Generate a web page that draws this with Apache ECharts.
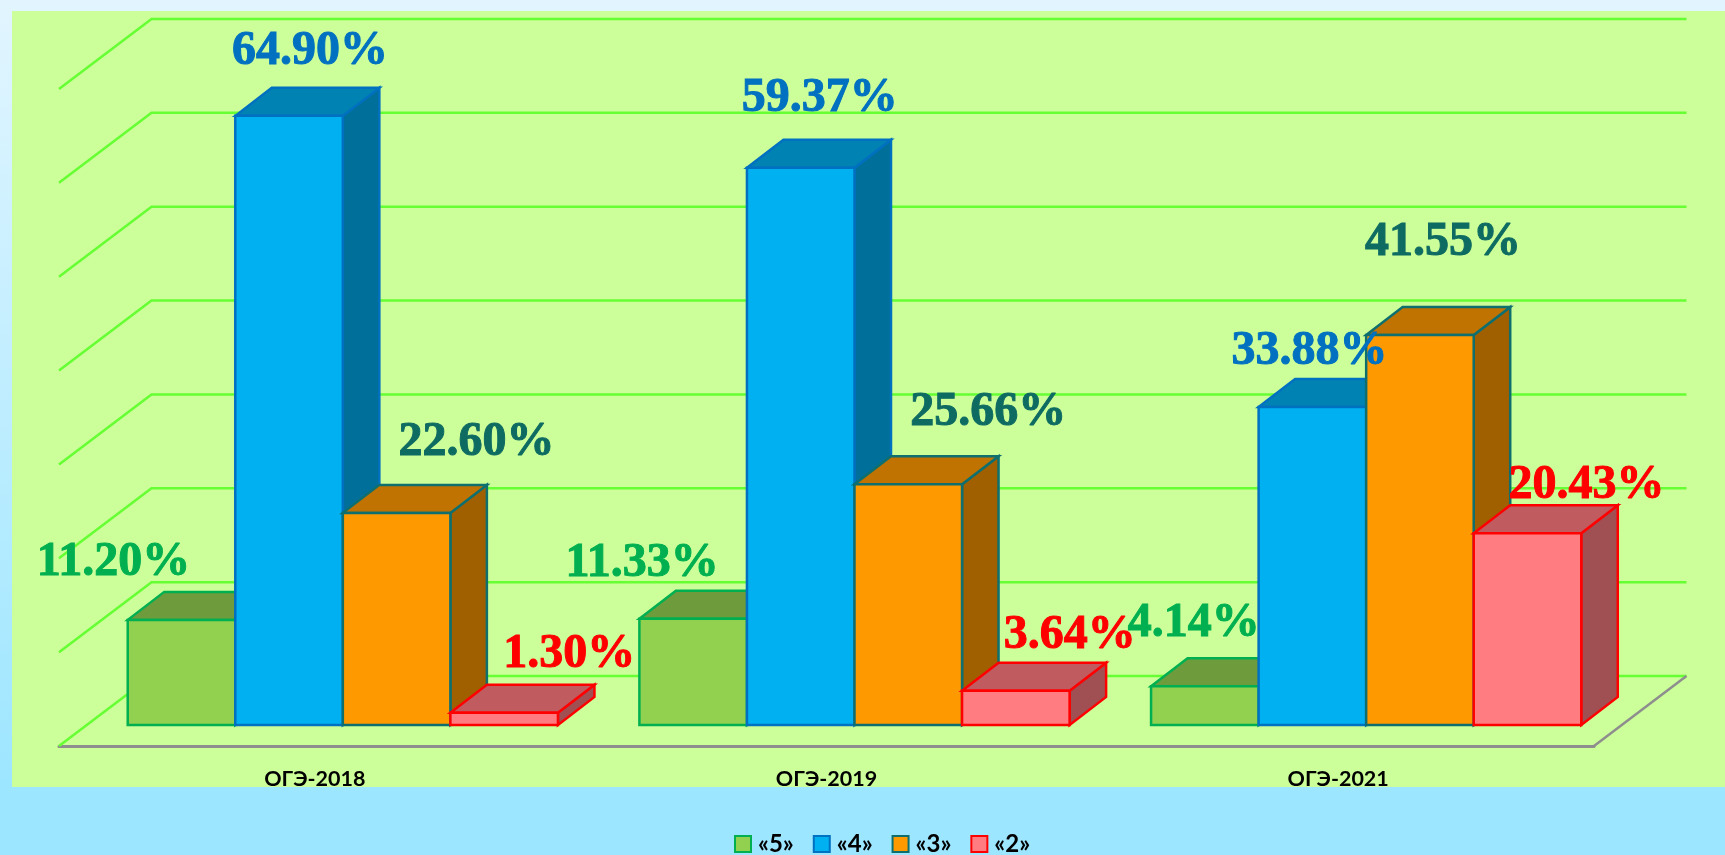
<!DOCTYPE html>
<html>
<head>
<meta charset="utf-8">
<style>html,body{margin:0;padding:0;width:100%;height:100%;overflow:hidden}#c{width:1725px;height:855px}</style>
<script src="https://cdn.jsdelivr.net/npm/echarts@6/dist/echarts.min.js"></script>
</head>
<body>
<div id="c"></div>
<script>
const categories = ['ОГЭ-2018', 'ОГЭ-2019', 'ОГЭ-2021'];
const seriesNames = ['«5»', '«4»', '«3»', '«2»'];
const grade5 = [11.20, 11.33, 4.14];
const grade4 = [64.90, 59.37, 33.88];
const grade3 = [22.60, 25.66, 41.55];
const grade2 = [1.30, 3.64, 20.43];
const tickValues = [0, 10, 20, 30, 40, 50, 60, 70];

const seriesValues = [grade5, grade4, grade3, grade2];
const palette = [
  { face: '#92D050', top: '#6E9C3C', side: '#5C8232', line: '#00B050', text: '#00B050' },
  { face: '#00B0F0', top: '#0082B2', side: '#00709A', line: '#0070C0', text: '#0070C0' },
  { face: '#FF9900', top: '#C07300', side: '#A06000', line: '#0F6F6F', text: '#0E6B62' },
  { face: '#FF7C80', top: '#C05C60', side: '#A05052', line: '#FF0000', text: '#FF0000' }
];
// label nudges from the top-front centre of each bar, [series][category]
const labelDx = [[-68, -51, -11], [21, 19, -3], [80, 80, 23], [65, 54, 59]];
const labelDy = [[-57, -55, -63], [-64, -69, -55], [-70, -72, -92], [-58, -55, -48]];

const floorDx = 92.5, floorDy = 70;      // depth of the 3D floor
const planeDx = 28, planeDy = 21;        // bars stand this far in from the front edge
const barDx = 36.5, barDy = 28;          // depth of a bar
const barShare = 0.2102;                 // bar width as a share of the band

function poly(points, fill, stroke, width) {
  return { type: 'polygon', shape: { points }, style: { fill, stroke, lineWidth: width, lineJoin: 'miter' } };
}

function renderBars(si) {
  return function (params, api) {
    const cat = api.value(0), val = api.value(1);
    const base = api.coord([cat, 0]);
    const top = api.coord([cat, val]);
    const band = api.size([1, 0])[0];
    const w = band * barShare;
    const x0 = base[0] - 2 * w + w * si + planeDx;
    const x1 = x0 + w;
    const yb = base[1] - planeDy;
    const yt = top[1] - planeDy;
    const c = palette[si];
    const lw = 2.5;
    return {
      type: 'group',
      children: [
        poly([[x1, yt], [x1 + barDx, yt - barDy], [x1 + barDx, yb - barDy], [x1, yb]], c.side, c.line, lw),
        poly([[x0, yt], [x0 + barDx, yt - barDy], [x1 + barDx, yt - barDy], [x1, yt]], c.top, c.line, lw),
        poly([[x0, yt], [x1, yt], [x1, yb], [x0, yb]], c.face, c.line, lw)
      ]
    };
  };
}

function renderWall(params, api) {
  const v = api.value(0);
  const p = api.coord([0, v]);
  const g = params.coordSys;
  const xl = g.x, xr = g.x + g.width, y = p[1];
  const children = [{
    type: 'polyline',
    shape: { points: [[xl, y], [xl + floorDx, y - floorDy], [xr + floorDx, y - floorDy]] },
    style: { fill: 'none', stroke: '#66FF33', lineWidth: 2.5 }
  }];
  if (v === 0) {
    children.push({
      type: 'line',
      shape: { x1: xr, y1: y, x2: xr + floorDx, y2: y - floorDy },
      style: { stroke: '#8E8E8E', lineWidth: 2.5 }
    });
  }
  return { type: 'group', children };
}

function renderLabel(params, api) {
  const cat = api.value(0), val = api.value(1), si = api.value(2);
  const p = api.coord([cat, val]);
  const band = api.size([1, 0])[0];
  const w = band * barShare;
  const cx = p[0] - 2 * w + w * si + planeDx + w / 2;
  const cy = p[1] - planeDy;
  return {
    type: 'text',
    style: {
      text: val.toFixed(2) + '%',
      x: cx + labelDx[si][cat],
      y: cy + labelDy[si][cat],
      fill: palette[si].text,
      stroke: palette[si].text,
      lineWidth: 1,
      font: 'bold 48px "Liberation Serif", serif',
      align: 'center',
      verticalAlign: 'middle'
    }
  };
}

const labelRows = [];
seriesValues.forEach((vals, si) => vals.forEach((v, ci) => labelRows.push([ci, v, si])));

const option = {
  animation: false,
  backgroundColor: {
    type: 'linear', x: 0, y: 0, x2: 0, y2: 1,
    colorStops: [{ offset: 0, color: '#E2F5FF' }, { offset: 0.92, color: '#9DE6FF' }, { offset: 1, color: '#9DE6FF' }]
  },
  graphic: [{
    type: 'rect', z: -10, silent: true,
    shape: { x: 12, y: 11, width: 1713, height: 776 },
    style: { fill: '#CCFF99' }
  }],
  grid: { left: 59, top: 89, width: 1535, height: 657 },
  xAxis: {
    type: 'category',
    data: categories,
    axisTick: { show: false },
    axisLine: { show: true, lineStyle: { color: '#8E8E8E', width: 3 } },
    axisLabel: { color: '#000', fontFamily: 'Lato, "Noto Sans", sans-serif', fontWeight: 'bold', fontSize: 21.5, margin: 22 }
  },
  yAxis: { type: 'value', min: 0, max: 70, interval: 10, show: false, splitLine: { show: false } },
  legend: {
    data: seriesNames,
    left: 734, top: 832,
    padding: 0,
    itemWidth: 16, itemHeight: 16, itemGap: 19,
    icon: 'rect',
    selectedMode: false,
    textStyle: { color: '#000', fontFamily: 'Lato, "Noto Sans", sans-serif', fontWeight: 'bold', fontSize: 24, padding: [0, 0, 0, 2] }
  },
  series: [
    { type: 'custom', z: 1, silent: true, data: tickValues.map(v => [v]), encode: { y: 0 }, renderItem: renderWall }
  ].concat(seriesNames.map((name, si) => ({
    type: 'custom', name, z: 3 + si, silent: true,
    itemStyle: { color: palette[si].face, borderColor: palette[si].line, borderWidth: 2.5 },
    data: seriesValues[si].map((v, ci) => [ci, v]),
    encode: { x: 0, y: 1 },
    renderItem: renderBars(si)
  }))).concat([
    { type: 'custom', z: 20, silent: true, data: labelRows, encode: { x: 0, y: 1 }, renderItem: renderLabel }
  ])
};
const chart = echarts.init(document.getElementById('c'), null, { renderer: 'canvas' });
chart.setOption(option);
</script>
</body>
</html>
